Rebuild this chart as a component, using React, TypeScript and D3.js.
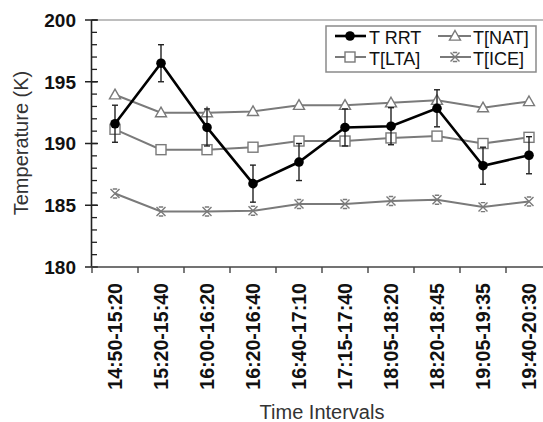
import React from "react";
import * as d3 from "d3";

const categories = ["14:50-15:20","15:20-15:40","16:00-16:20","16:20-16:40","16:40-17:10","17:15-17:40","18:05-18:20","18:20-18:45","19:05-19:35","19:40-20:30"];
const rrt = [191.6, 196.5, 191.3, 186.75, 188.5, 191.3, 191.4, 192.85, 188.2, 189.05];
const rrtErr = [1.5, 1.5, 1.5, 1.5, 1.5, 1.5, 1.5, 1.5, 1.5, 1.5];
const nat = [193.95, 192.5, 192.5, 192.6, 193.1, 193.1, 193.3, 193.5, 192.9, 193.4];
const lta = [191.15, 189.5, 189.5, 189.7, 190.2, 190.2, 190.45, 190.6, 190.0, 190.5];
const ice = [185.95, 184.5, 184.5, 184.55, 185.1, 185.1, 185.35, 185.45, 184.85, 185.3];
const yTicks = [180, 185, 190, 195, 200];
const yMinor = d3.range(180, 201, 1);

const GREY = "#7a7a7a";

function Marker({ type, x, y }: { type: string; x: number; y: number }) {
  if (type === "circle") return <circle cx={x} cy={y} r={4.8} fill="#000" />;
  if (type === "tri") {
    const s = 5.5;
    return <path d={`M${x},${y - s} L${x + s},${y + s * 0.75} L${x - s},${y + s * 0.75} Z`} fill="#fff" stroke={GREY} strokeWidth={1.4} />;
  }
  if (type === "square") {
    const s = 5;
    return <rect x={x - s} y={y - s} width={2 * s} height={2 * s} fill="#fff" stroke={GREY} strokeWidth={1.4} />;
  }
  const s = 4.5;
  const h = 2.2;
  return (
    <path
      d={`M${x - s},${y - s} L${x + s},${y + s} M${x + s},${y - s} L${x - s},${y + s} M${x - h},${y - s} L${x + h},${y - s} M${x - h},${y + s} L${x + h},${y + s}`}
      stroke={GREY}
      strokeWidth={1.4}
      fill="none"
    />
  );
}

export default function App() {
  const W = 543, H = 422;
  const x = d3.scaleBand<string>().domain(categories).range([92, 552]).padding(0);
  const y = d3.scaleLinear().domain([180, 200]).range([267, 20]);
  const cx = (c: string) => (x(c) as number) + x.bandwidth() / 2;
  const line = d3.line<number>().x((_, i) => cx(categories[i])).y((d) => y(d));

  const series = [
    { data: ice, type: "x", color: GREY, w: 2 },
    { data: lta, type: "square", color: GREY, w: 2 },
    { data: nat, type: "tri", color: GREY, w: 2 },
  ];

  const font = "Liberation Sans, Arial, sans-serif";

  return (
    <svg width={W} height={H} style={{ position: "absolute", left: 0, top: 0 }} fontFamily={font}>
      <rect width={W} height={H} fill="#fff" />
      {/* top frame */}
      <line x1={92} x2={W} y1={y(200)} y2={y(200)} stroke="#a8a8a8" strokeWidth={1.5} />
      {/* y axis */}
      <line x1={91.5} x2={91.5} y1={y(200)} y2={y(180)} stroke="#222" strokeWidth={1.6} />
      {yMinor.map((v) => (
        <line key={"m" + v} x1={91.5} x2={97} y1={y(v)} y2={y(v)} stroke="#222" strokeWidth={1.3} />
      ))}
      {yTicks.map((v) => (
        <g key={v}>
          <line x1={85} x2={98} y1={y(v)} y2={y(v)} stroke="#222" strokeWidth={1.5} />
          <text x={76} y={y(v)} dy="0.36em" textAnchor="end" fontSize={19} fontWeight="bold" fill="#111">
            {v}
          </text>
        </g>
      ))}
      {/* x axis */}
      <line x1={91} x2={W} y1={267} y2={267} stroke="#444" strokeWidth={1.6} />
      {categories.map((c) => (
        <line key={"t" + c} x1={x(c) as number} x2={x(c) as number} y1={267} y2={273} stroke="#444" strokeWidth={1.4} />
      ))}
      {categories.map((c) => (
        <text
          key={"l" + c}
          transform={`translate(${cx(c)},283) rotate(-90)`}
          dy="0.36em"
          textAnchor="end"
          fontSize={19.6}
          fontWeight="bold"
          fill="#111"
        >
          {c}
        </text>
      ))}
      <text transform="translate(28,143) rotate(-90)" textAnchor="middle" fontSize={20} fill="#333">
        Temperature (K)
      </text>
      <text x={322} y={419} textAnchor="middle" fontSize={20} fill="#333">
        Time Intervals
      </text>

      {/* grey series */}
      {series.map((s, si) => (
        <g key={si}>
          <path d={line(s.data) || ""} fill="none" stroke={s.color} strokeWidth={s.w} />
          {s.data.map((v, i) => (
            <Marker key={i} type={s.type} x={cx(categories[i])} y={y(v)} />
          ))}
        </g>
      ))}

      {/* RRT error bars */}
      {rrt.map((v, i) => {
        const px = cx(categories[i]);
        const t = y(v + rrtErr[i]);
        const b = y(v - rrtErr[i]);
        return (
          <g key={"e" + i} stroke="#222" strokeWidth={1.4}>
            <line x1={px} x2={px} y1={t} y2={b} />
            <line x1={px - 3} x2={px + 3} y1={t} y2={t} />
            <line x1={px - 3} x2={px + 3} y1={b} y2={b} />
          </g>
        );
      })}
      <path d={line(rrt) || ""} fill="none" stroke="#000" strokeWidth={2.6} />
      {rrt.map((v, i) => (
        <Marker key={"r" + i} type="circle" x={cx(categories[i])} y={y(v)} />
      ))}

      {/* legend */}
      <rect x={326} y={26} width={210} height={46} fill="#fff" stroke="#8a8a8a" strokeWidth={1.5} />
      <line x1={335} x2={366} y1={36} y2={36} stroke="#000" strokeWidth={2.6} />
      <Marker type="circle" x={350} y={36} />
      <text x={369} y={44} fontSize={18} fill="#111">T RRT</text>
      <line x1={438} x2={471} y1={36} y2={36} stroke={GREY} strokeWidth={2} />
      <Marker type="tri" x={455} y={36} />
      <text x={473} y={44} fontSize={18} fill="#111">T[NAT]</text>
      <line x1={335} x2={366} y1={57} y2={57} stroke={GREY} strokeWidth={2} />
      <Marker type="square" x={350} y={57} />
      <text x={369} y={65} fontSize={18} fill="#111">T[LTA]</text>
      <line x1={440} x2={471} y1={57} y2={57} stroke={GREY} strokeWidth={2} />
      <Marker type="x" x={455} y={57} />
      <text x={473} y={65} fontSize={18} fill="#111">T[ICE]</text>
    </svg>
  );
}
